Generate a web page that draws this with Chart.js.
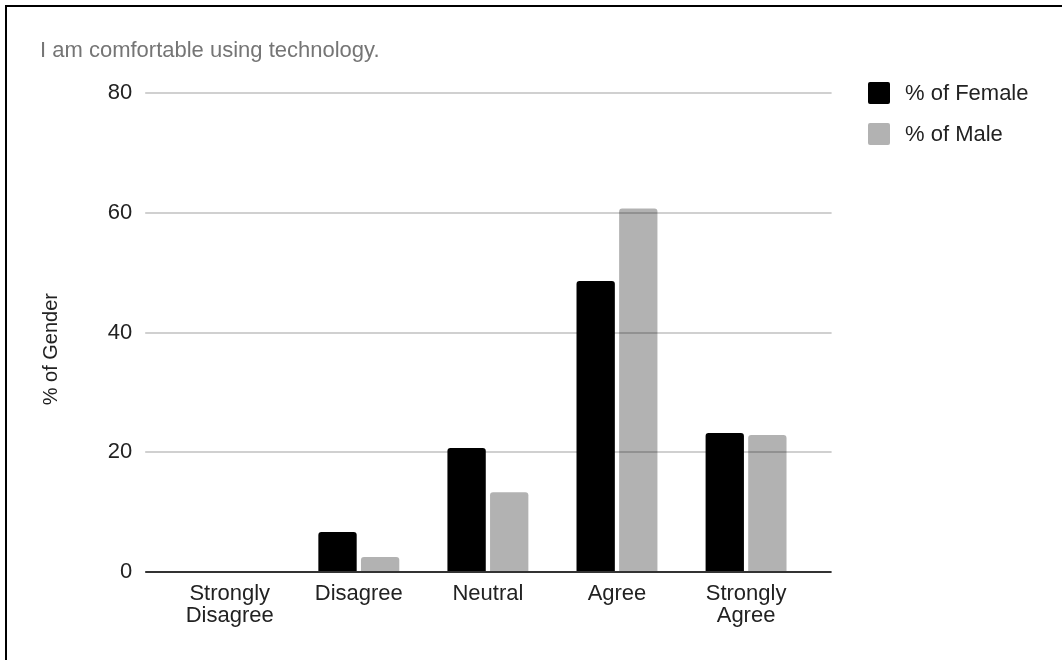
<!DOCTYPE html>
<html>
<head>
<meta charset="utf-8">
<script src="https://cdn.jsdelivr.net/npm/chart.js@4.4.1/dist/chart.umd.min.js"></script>
<style>
  body { margin: 0; background: #fff; font-family: "Liberation Sans", Arial, sans-serif; }
  #wrap { position: relative; width: 1062px; height: 660px; overflow: hidden; }
  #frame { position: absolute; left: 5px; top: 5px; right: -10px; bottom: -10px;
           border-left: 2px solid #000; border-top: 2px solid #000; }
  #title { position: absolute; left: 40px; top: 39px; font-size: 22px; line-height: 22px; color: #757575; }
  #chartBox { position: absolute; left: 0; top: 0; width: 1062px; height: 660px; }
  #legend { position: absolute; left: 868px; top: 82px; }
  .item { display: flex; align-items: center; height: 22px; margin-bottom: 19px;
          font-size: 22px; line-height: 22px; color: #222; }
  .swatch { width: 22px; height: 22px; border-radius: 2px; margin-right: 15px; }
</style>
</head>
<body>
<div id="wrap">
  <div id="frame"></div>
  <div id="chartBox"><canvas id="mainChart"></canvas></div>
  <div id="title">I am comfortable using technology.</div>
  <div id="legend"></div>
</div>
<script>
// dados
const categories = [['Strongly', 'Disagree'], 'Disagree', 'Neutral', 'Agree', ['Strongly', 'Agree']];
const femaleValues = [0, 6.7, 20.7, 48.6, 23.2];
const maleValues = [0, 2.5, 13.3, 60.7, 22.9];
const seriesNames = ['% of Female', '% of Male'];
const seriesColors = ['#000000', 'rgba(0, 0, 0, 0.3)'];
const yMax = 80;
const yStep = 20;

Chart.defaults.font.family = "'Liberation Sans', Arial, sans-serif";

// linhas de grade mais largas que a área das barras
const extendedGrid = {
  id: 'extendedGrid',
  beforeDatasetsDraw(chart) {
    const { ctx, chartArea, scales: { y } } = chart;
    ctx.save();
    ctx.lineWidth = 2;
    ctx.strokeStyle = '#d0d0d0';
    y.ticks.forEach(t => {
      if (t.value === 0) return;
      const py = Math.round(y.getPixelForValue(t.value));
      ctx.beginPath();
      ctx.moveTo(chartArea.left - 20, py);
      ctx.lineTo(chartArea.right + 21, py);
      ctx.stroke();
    });
    ctx.restore();
  },
  afterDatasetsDraw(chart) {
    const { ctx, chartArea, scales: { y } } = chart;
    const py = Math.round(y.getPixelForValue(0));
    ctx.save();
    ctx.lineWidth = 2;
    ctx.strokeStyle = '#333333';
    ctx.beginPath();
    ctx.moveTo(chartArea.left - 20, py);
    ctx.lineTo(chartArea.right + 21, py);
    ctx.stroke();
    ctx.restore();
  }
};

const mainChart = new Chart(document.getElementById('mainChart'), {
  type: 'bar',
  data: {
    labels: categories,
    datasets: [{
      label: seriesNames[0],
      data: femaleValues,
      backgroundColor: seriesColors[0],
      borderRadius: 3,
      borderSkipped: 'bottom'
    }, {
      label: seriesNames[1],
      data: maleValues,
      backgroundColor: seriesColors[1],
      borderRadius: 3,
      borderSkipped: 'bottom'
    }]
  },
  options: {
    responsive: true,
    maintainAspectRatio: false,
    animation: false,
    categoryPercentage: 0.66,
    barPercentage: 0.9,
    layout: { padding: { left: 0, right: 251.4, top: 93, bottom: 0 } },
    plugins: {
      legend: { display: false },
      tooltip: { enabled: false }
    },
    scales: {
      x: {
        grid: { display: false, drawTicks: false },
        border: { display: false },
        ticks: {
          color: '#222',
          font: { size: 22, lineHeight: 1.0 },
          padding: 11,
          maxRotation: 0,
          autoSkip: false
        },
        afterFit(scale) { scale.height = 88; }
      },
      y: {
        min: 0,
        max: yMax,
        grid: { display: false, drawTicks: false },
        border: { display: false },
        ticks: {
          stepSize: yStep,
          color: '#222',
          font: { size: 22 },
          padding: 33
        },
        title: {
          display: true,
          text: '% of Gender      ',
          color: '#222',
          font: { size: 20 },
          padding: { top: 39, bottom: 0 }
        },
        afterFit(scale) { scale.width = 165.2; }
      }
    }
  },
  plugins: [extendedGrid]
});

// legenda em HTML
const legendContainer = document.getElementById('legend');
seriesNames.forEach((name, i) => {
  const item = document.createElement('div');
  item.className = 'item';
  item.innerHTML = `<span class="swatch" style="background-color: ${seriesColors[i]}"></span>${name}`;
  legendContainer.appendChild(item);
});
</script>
</body>
</html>
